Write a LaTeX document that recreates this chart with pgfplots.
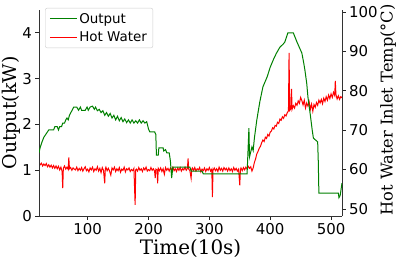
\documentclass[border=0pt]{standalone}
\usepackage{fontspec}
\setmainfont{DejaVu Sans}
\newfontfamily\labelfont{DejaVu Serif}
\usepackage{pgfplots}
\pgfplotsset{compat=1.18}

\definecolor{outgreen}{rgb}{0,0.5,0}
\definecolor{hotred}{rgb}{1,0,0}

\begin{document}
\begin{tikzpicture}
\useasboundingbox (0,0) rectangle (400bp,257bp);
\pgfplotsset{
  common/.style={
    at={(39bp,41bp)}, anchor=south west,
    scale only axis, width=303bp, height=206bp,
    xmin=20, xmax=518,
    tick style={black!85, line width=0.8bp},
    tick align=outside, major tick length=3.5bp,
    /pgf/number format/assume math mode=true,
    ticklabel style={font=\fontsize{15}{18}\selectfont},
    axis line style={black!80, line width=0.8bp},
  },
}
% right axis: hot water inlet temperature (drawn first, legend lives on the left axis)
\begin{axis}[common,
  axis y line*=right, axis x line=none,
  ymin=48.2, ymax=100.5,
  ytick={50,60,70,80,90,100},
  ylabel={Hot Water Inlet Temp(°C)},
  ylabel style={font=\labelfont\fontsize{16.3}{19}\selectfont,
    at={(axis description cs:1.152,0.515)}, anchor=center},
]
\addplot[hotred, line width=1bp] coordinates {
(20,61.8) (22,61.2) (24,61.6) (26,60.9) (28,61.4) (30,61.0) (32,61.5) (34,60.7)
(36,61.2) (38,60.6) (40,61.1) (42,60.4) (44,61.0) (46,60.3) (48,60.9) (50,60.2)
(52,60.8) (54,59.9) (56,60.6) (58,59.5) (59,55.3) (60,60.3) (62,60.9) (64,60.1)
(66,60.6) (68,60.0) (69,63.1) (70,60.2) (72,60.5) (74,59.8) (76,60.4) (78,60.1)
(80,59.9) (82,60.6) (84,59.7) (86,60.3) (88,59.8) (90,60.5) (92,59.6) (94,60.2)
(96,60.7) (98,59.7) (100,60.1) (102,59.4) (104,60.4) (106,59.9) (108,60.6) (110,59.5)
(112,60.2) (114,59.8) (116,60.7) (118,59.6) (120,60.3) (122,59.2) (124,60.5) (126,59.8)
(128,56.5) (129,60.2) (130,60.6) (132,59.7) (134,60.3) (136,59.6) (138,58.6) (140,60.4)
(142,59.9) (144,60.6) (146,59.5) (148,60.2) (150,59.7) (152,60.5) (154,59.3) (156,60.1)
(158,59.8) (160,60.6) (162,59.4) (164,60.2) (166,59.9) (168,60.4) (170,59.5) (172,60.0)
(174,59.7) (176,60.3) (178,51.0) (179,59.9) (180,60.1) (182,59.6) (184,60.5) (186,59.8)
(188,60.2) (190,59.5) (192,60.4) (194,59.9) (196,60.6) (198,59.6) (200,60.0) (202,59.7)
(204,60.5) (206,59.8) (208,60.2) (210,59.6) (211,57.8) (212,60.1) (214,59.9) (215,56.5)
(216,60.3) (218,59.7) (220,60.4) (222,59.5) (224,60.2) (226,58.8) (228,60.5) (230,59.8)
(232,60.3) (234,59.6) (236,60.4) (238,59.9) (240,60.6) (242,59.7) (244,60.2) (246,59.5)
(248,60.4) (250,59.8) (252,60.5) (254,59.6) (256,60.2) (258,59.9) (260,60.6) (262,59.8)
(264,60.3) (265,62.8) (266,60.1) (268,59.7) (270,57.8) (271,60.0) (272,60.4) (274,59.8)
(276,60.5) (278,59.6) (280,60.2) (282,59.9) (284,60.5) (286,59.4) (288,60.1) (290,59.7)
(292,60.4) (294,59.5) (296,60.2) (298,59.8) (300,60.5) (302,59.6) (304,60.1) (305,53.0)
(306,59.8) (308,60.4) (310,59.7) (312,60.2) (314,59.5) (316,60.6) (318,59.8) (320,60.3)
(322,59.6) (324,60.5) (326,59.9) (328,60.3) (330,59.6) (332,60.4) (334,59.7) (336,60.2)
(338,59.5) (340,60.5) (342,59.8) (344,60.3) (346,59.6) (348,60.1) (350,56.0) (351,59.9)
(352,60.4) (354,59.7) (356,60.5) (358,59.9) (360,60.6) (362,60.1) (364,60.8) (366,60.3)
(368,60.7) (370,59.6) (372,60.4) (374,61.8) (376,62.7) (378,64.0) (380,64.6) (382,65.4)
(384,65.9) (386,66.8) (388,67.5) (390,67.1) (392,68.2) (394,67.9) (396,68.9) (398,68.5)
(400,69.5) (402,69.8) (404,70.6) (406,70.3) (408,71.2) (410,71.0) (412,72.0) (414,71.7)
(416,72.8) (418,72.5) (420,73.4) (422,73.0) (424,73.9) (426,73.6) (428,74.4) (430,74.9)
(431,89.6) (432,75.0) (434,75.4) (435,80.5) (436,75.3) (438,76.2) (440,75.6) (442,76.8)
(444,76.3) (446,77.4) (448,76.8) (450,78.3) (452,77.5) (454,76.4) (456,77.6) (458,75.6)
(460,76.9) (462,76.1) (464,77.2) (466,75.3) (468,76.6) (470,74.8) (472,76.5) (474,75.8)
(476,77.0) (478,76.3) (480,77.6) (482,76.9) (484,77.8) (486,76.7) (488,78.1) (490,77.3)
(492,78.5) (494,77.6) (496,78.9) (498,78.0) (500,79.2) (502,78.3) (504,79.6) (506,78.8)
(507,82.5) (508,79.1) (510,77.9) (512,78.7) (514,77.8) (516,78.5) (518,78.2)
};
\end{axis}
% left axis: heat output, carries the legend for both series
\begin{axis}[common,
  axis y line*=left, axis x line*=bottom,
  ymin=0, ymax=4.5,
  ytick={0,1,2,3,4},
  xtick={100,200,300,400,500},
  xlabel={Time(10s)}, ylabel={Output(kW)},
  xlabel style={font=\labelfont\fontsize{20}{24}\selectfont,
    at={(axis description cs:0.5,-0.156)}, anchor=center},
  ylabel style={font=\labelfont\fontsize{19}{23}\selectfont,
    at={(axis description cs:-0.093,0.5)}, anchor=center},
  legend cell align=left,
  legend style={at={(axis description cs:0.02,1.01)}, anchor=north west,
    draw=black!20, rounded corners=2bp, fill=white,
    font=\fontsize{13.5}{16}\selectfont, inner xsep=4bp, inner ysep=3bp,
    row sep=3bp},
  legend image code/.code={\draw (0bp,0bp) -- (27bp,0bp);},
]
\addplot[outgreen, line width=1bp] coordinates {
(20,1.38) (22,1.5) (25,1.62) (28,1.72) (32,1.8) (36,1.88) (40,1.88) (44,1.88)
(46,1.95) (50,1.95) (52,1.88) (54,1.95) (57,1.95) (59,2.03) (62,2.03) (64,2.1)
(66,2.14) (68,2.1) (70,2.2) (74,2.3) (77,2.38) (82,2.38) (85,2.31) (88,2.38)
(90,2.31) (96,2.31) (99,2.38) (101,2.31) (104,2.38) (108,2.4) (111,2.33) (113,2.38)
(116,2.3) (119,2.33) (122,2.26) (125,2.3) (128,2.2) (131,2.26) (134,2.18) (137,2.24)
(140,2.14) (143,2.2) (146,2.1) (149,2.18) (152,2.08) (155,2.15) (158,2.06) (161,2.12)
(164,2.04) (167,2.1) (170,2.03) (173,2.1) (176,2.03) (179,2.08) (182,2.03) (185,2.1)
(188,2.03) (191,2.08) (194,2.03) (197,2.06) (200,1.9) (202,1.84) (210,1.84) (212,1.78)
(213,1.33) (216,1.33) (217,1.49) (224,1.49) (225,1.42) (228,1.45) (230,1.38) (234,1.38)
(236,1.2) (238,0.83) (239,0.95) (240,1.07) (268,1.07) (270,0.98) (288,0.98) (290,0.92)
(362,0.92) (363,1.25) (365,1.92) (366,1.29) (368,1.4) (370,1.51) (372,1.43) (374,1.7)
(378,2.1) (383,2.5) (388,2.82) (395,3.04) (400,3.25) (405,3.41) (410,3.55) (416,3.69)
(421,3.75) (424,3.8) (429,4.0) (438,4.0) (441,3.9) (444,3.8) (448,3.68) (452,3.56)
(455,3.35) (457,3.19) (460,2.9) (462,2.6) (466,2.2) (469,1.88) (471,1.7) (478,1.62)
(479,1.2) (480,0.5) (512,0.5) (513,0.4) (515,0.45) (518,0.72)
};
\addlegendentry{Output}
\addlegendimage{hotred, line width=1bp}
\addlegendentry{Hot Water}
\end{axis}
\end{tikzpicture}
\end{document}
